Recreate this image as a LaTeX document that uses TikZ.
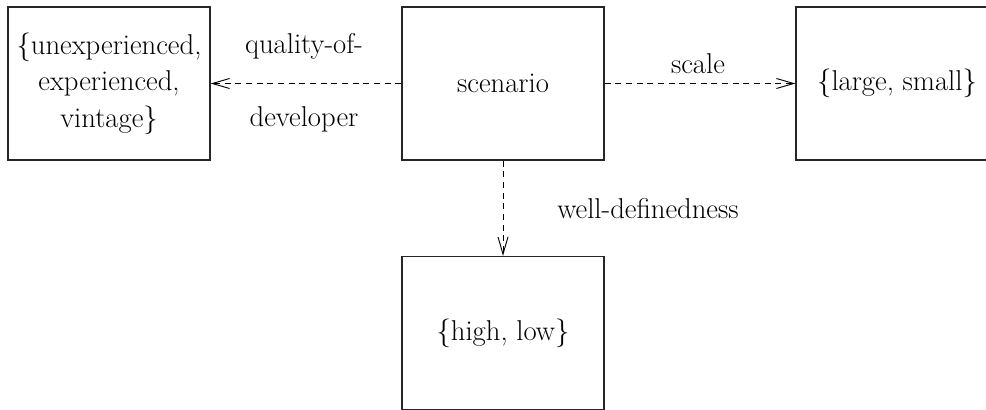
\documentclass[tikz,border=0pt]{standalone}
\usetikzlibrary{arrows.meta}
\begin{document}
\begin{tikzpicture}[x=0.75pt,y=-0.75pt,
  every node/.style={font=\fontsize{21.5}{27.4}\selectfont, inner sep=0pt},
  valuebox/.style={draw=black!85, line width=0.9pt, minimum width=151.5pt, minimum height=114.75pt, align=center},
  attr/.style={draw, line width=0.7pt, dash pattern=on 4.5pt off 3.5pt,
    -{Straight Barb[length=13pt,width=7.5pt,line width=0.7pt]}},
  lbl/.style={align=center}]
\useasboundingbox (0,0) rectangle (986,410);
\clip (0,0) rectangle (986,410);
% the four boxes
\node[valuebox] (dev) at (109,83.5) {\{unexperienced,\\experienced,\\vintage\}};
\node[valuebox] (scn) at (503,83.5) {scenario};
\node[valuebox] (siz) at (897,83.5) {\{large, small\}};
\node[valuebox] (def) at (503,333) {\{high, low\}};
% attribute arrows
\draw[attr] (scn.west) -- (dev.east);
\draw[attr] (scn.east) -- (siz.west);
\draw[attr] (scn.south) -- (def.north);
% attribute names
\node[lbl] (q1) at (304,46) {quality-of-};
\node[lbl] (q2) at (304,119) {developer};
\node[lbl] (sc) at (698,64) {scale};
\node[lbl] (wd) at (648,209) {well-definedness};
\end{tikzpicture}
\end{document}
